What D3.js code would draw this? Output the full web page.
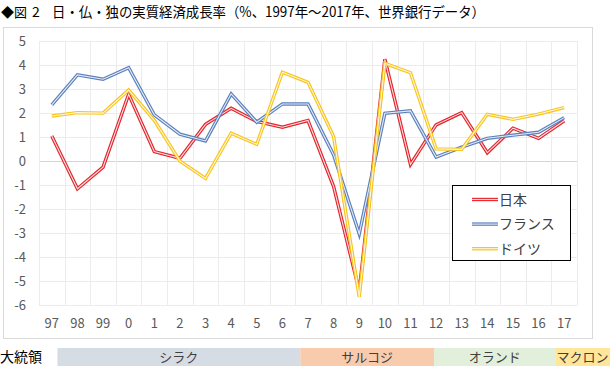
<!DOCTYPE html>
<html><head><meta charset="utf-8">
<script src="https://cdn.jsdelivr.net/npm/d3@7"></script>
<style>
html,body{margin:0;padding:0;background:#fff;}
svg{display:block;font-family:"Noto Sans CJK JP","Noto Sans",sans-serif;}
</style></head>
<body>
<svg id="c" width="610" height="366"></svg>
<script>
const years = ["97","98","99","0","1","2","3","4","5","6","7","8","9","10","11","12","13","14","15","16","17"];
const japan  = [1.05,-1.15,-0.25,2.78,0.40,0.12,1.53,2.20,1.65,1.41,1.69,-1.06,-5.40,4.24,-0.14,1.51,2.02,0.35,1.37,0.95,1.68];
const france = [2.34,3.59,3.41,3.89,1.93,1.12,0.84,2.80,1.62,2.38,2.38,0.26,-3.03,1.99,2.09,0.17,0.58,0.95,1.08,1.20,1.81];
const germany= [1.88,2.02,2.00,2.96,1.70,0.00,-0.72,1.16,0.70,3.70,3.28,1.02,-5.65,4.07,3.68,0.51,0.49,1.95,1.74,1.96,2.23];
const seriesNames = ["日本","フランス","ドイツ"];
const seriesColors = ["#e3262e","#5a80be","#f8c51c"];
const yTicks = [5,4,3,2,1,0,-1,-2,-3,-4,-5,-6];
const presNames = ["シラク","サルコジ","オランド","マクロン"];
const presStart = [0.72,10.2,15.42,20.15];
const presEnd   = [10.2,15.42,20.15,22.4];
const presColors = ["#d6dce4","#f8cbad","#e2efda","#ffe699"];
const titleHead = "◆図";
const titleNum = "2";
const titleBody = "日・仏・独の実質経済成長率（%、1997年～2017年、世界銀行データ）";

const svg = d3.select("#c");
const x = d3.scaleBand().domain(years).range([39, 577]).padding(0);
const bw = x.bandwidth();
const y = d3.scaleLinear().domain([-6, 5]).range([305.3, 41]);
const xi = d3.scaleLinear().domain([0, years.length]).range([39, 577]);

// title
const tg = svg.append("g").attr("fill", "#000");
tg.append("text").attr("x", 1).attr("y", 17).attr("font-size", 13).text(titleHead);
tg.append("text").attr("x", 32).attr("y", 17).attr("font-size", 14).text(titleNum);
tg.append("text").attr("x", 52).attr("y", 17).attr("font-size", 14).attr("textLength", 433)
  .attr("lengthAdjust", "spacingAndGlyphs").text(titleBody);

// chart border
svg.append("rect").attr("x", 3.5).attr("y", 27.5).attr("width", 589).attr("height", 311)
  .attr("fill", "#fff").attr("stroke", "#d9d9d9");

// gridlines
const g = svg.append("g");
g.selectAll("line.h").data(yTicks).join("line")
  .attr("x1", 39).attr("x2", 577)
  .attr("y1", d => Math.round(y(d)) + 0.5).attr("y2", d => Math.round(y(d)) + 0.5)
  .attr("stroke", d => d === 0 ? "#d4d4d4" : "#ececec").attr("stroke-width", 1);
g.selectAll("line.v").data(d3.range(years.length + 1)).join("line")
  .attr("x1", d => Math.round(xi(d)) + 0.5).attr("x2", d => Math.round(xi(d)) + 0.5)
  .attr("y1", y(5)).attr("y2", y(-6))
  .attr("stroke", "#ececec").attr("stroke-width", 1);

// y labels
svg.append("g").selectAll("text").data(yTicks).join("text")
  .attr("x", 26).attr("y", d => y(d) + 5).attr("text-anchor", "end")
  .attr("font-size", 13).attr("fill", "#595959").text(d => d < 0 ? "-" + Math.abs(d) : d);

// x labels
svg.append("g").selectAll("text").data(years).join("text")
  .attr("x", d => x(d) + bw / 2).attr("y", 328).attr("text-anchor", "middle")
  .attr("font-size", 13).attr("fill", "#595959").text(d => d);

// lines
const all = [japan, france, germany];
const line = d3.line().x((d, i) => x(years[i]) + bw / 2).y(d => y(d));
all.forEach((s, k) => {
  const gg = svg.append("g");
  gg.append("path").attr("d", line(s)).attr("fill", "none")
    .attr("stroke", seriesColors[k]).attr("stroke-width", 3.4).attr("stroke-linejoin", "miter");
  gg.append("path").attr("d", line(s)).attr("fill", "none")
    .attr("stroke", "#fff").attr("stroke-opacity", 0.85).attr("stroke-width", 1.1);
});

// legend
const lg = svg.append("g");
lg.append("rect").attr("x", 452.5).attr("y", 185.5).attr("width", 118).attr("height", 75)
  .attr("fill", "#fff").attr("stroke", "#000").attr("stroke-width", 1);
seriesNames.forEach((n, k) => {
  const yy = 199.5 + k * 24.6;
  lg.append("line").attr("x1", 472).attr("x2", 498).attr("y1", yy).attr("y2", yy)
    .attr("stroke", seriesColors[k]).attr("stroke-width", 3.4);
  lg.append("line").attr("x1", 472).attr("x2", 498).attr("y1", yy).attr("y2", yy)
    .attr("stroke", "#fff").attr("stroke-opacity", 0.85).attr("stroke-width", 1.1);
  lg.append("text").attr("x", 499).attr("y", yy + 5).attr("font-size", 14).attr("fill", "#404040").text(n);
});

// president bar
svg.append("text").attr("x", 0).attr("y", 362).attr("font-size", 14).attr("fill", "#000").text("大統領");
const pb = svg.append("g");
presNames.forEach((n, k) => {
  const x0 = xi(presStart[k]), x1 = Math.min(610, xi(presEnd[k]));
  pb.append("rect").attr("x", x0).attr("y", 348).attr("width", x1 - x0).attr("height", 18)
    .attr("fill", presColors[k]);
  pb.append("text").attr("x", (x0 + x1) / 2).attr("y", 361.5).attr("text-anchor", "middle")
    .attr("font-size", 13).attr("fill", "#404040").text(n);
});
</script>
</body></html>
